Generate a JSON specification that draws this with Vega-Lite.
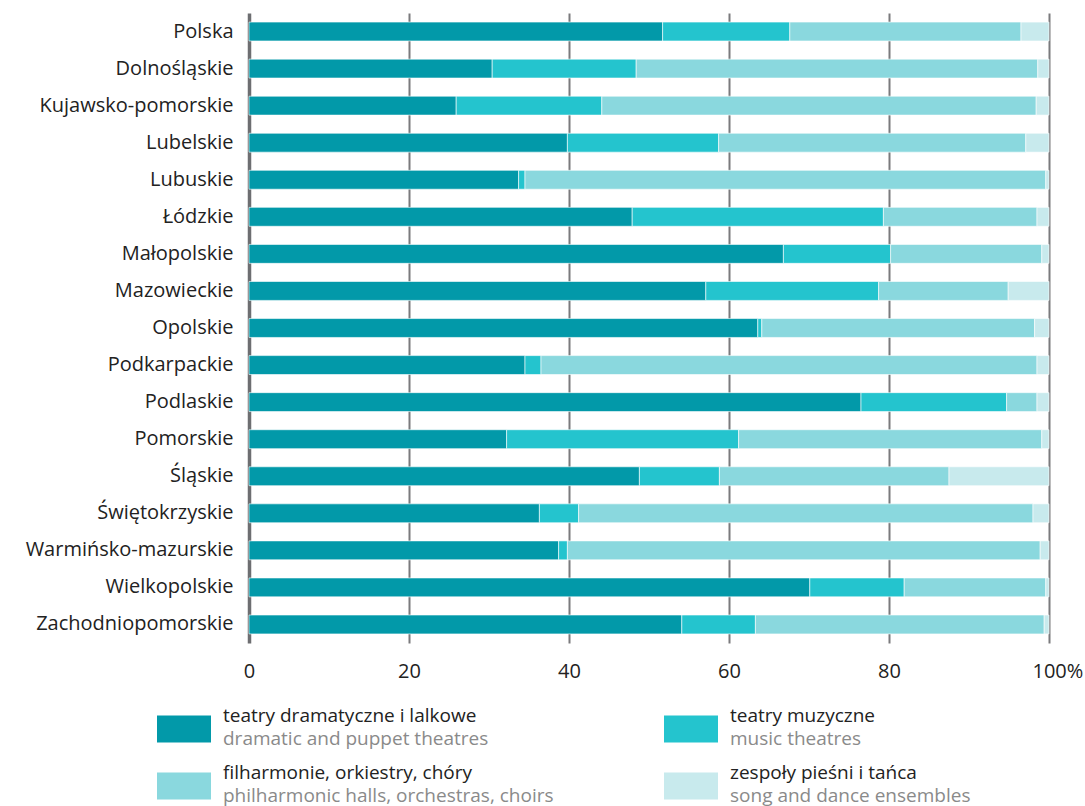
{
  "$schema": "https://vega.github.io/schema/vega-lite/v6.json",
  "background": "white",
  "padding": {"top": 13, "left": 25, "right": 5, "bottom": 0},
  "spacing": 20,
  "config": {
    "view": {"stroke": null},
    "font": "Open Sans"
  },
  "datasets": {
    "cats": [
      {"cat": "teatry dramatyczne i lalkowe", "en": "dramatic and puppet theatres"},
      {"cat": "teatry muzyczne", "en": "music theatres"},
      {"cat": "filharmonie, orkiestry, chóry", "en": "philharmonic halls, orchestras, choirs"},
      {"cat": "zespoły pieśni i tańca", "en": "song and dance ensembles"}
    ],
    "bars": [
      {"region": "Polska", "cat": "teatry dramatyczne i lalkowe", "value": 51.7},
      {"region": "Polska", "cat": "teatry muzyczne", "value": 15.9},
      {"region": "Polska", "cat": "filharmonie, orkiestry, chóry", "value": 28.9},
      {"region": "Polska", "cat": "zespoły pieśni i tańca", "value": 3.5},
      {"region": "Dolnośląskie", "cat": "teatry dramatyczne i lalkowe", "value": 30.4},
      {"region": "Dolnośląskie", "cat": "teatry muzyczne", "value": 18.0},
      {"region": "Dolnośląskie", "cat": "filharmonie, orkiestry, chóry", "value": 50.2},
      {"region": "Dolnośląskie", "cat": "zespoły pieśni i tańca", "value": 1.4},
      {"region": "Kujawsko-pomorskie", "cat": "teatry dramatyczne i lalkowe", "value": 25.9},
      {"region": "Kujawsko-pomorskie", "cat": "teatry muzyczne", "value": 18.2},
      {"region": "Kujawsko-pomorskie", "cat": "filharmonie, orkiestry, chóry", "value": 54.3},
      {"region": "Kujawsko-pomorskie", "cat": "zespoły pieśni i tańca", "value": 1.6},
      {"region": "Lubelskie", "cat": "teatry dramatyczne i lalkowe", "value": 39.8},
      {"region": "Lubelskie", "cat": "teatry muzyczne", "value": 18.9},
      {"region": "Lubelskie", "cat": "filharmonie, orkiestry, chóry", "value": 38.4},
      {"region": "Lubelskie", "cat": "zespoły pieśni i tańca", "value": 2.9},
      {"region": "Lubuskie", "cat": "teatry dramatyczne i lalkowe", "value": 33.7},
      {"region": "Lubuskie", "cat": "teatry muzyczne", "value": 0.8},
      {"region": "Lubuskie", "cat": "filharmonie, orkiestry, chóry", "value": 65.1},
      {"region": "Lubuskie", "cat": "zespoły pieśni i tańca", "value": 0.4},
      {"region": "Łódzkie", "cat": "teatry dramatyczne i lalkowe", "value": 47.9},
      {"region": "Łódzkie", "cat": "teatry muzyczne", "value": 31.4},
      {"region": "Łódzkie", "cat": "filharmonie, orkiestry, chóry", "value": 19.2},
      {"region": "Łódzkie", "cat": "zespoły pieśni i tańca", "value": 1.5},
      {"region": "Małopolskie", "cat": "teatry dramatyczne i lalkowe", "value": 66.8},
      {"region": "Małopolskie", "cat": "teatry muzyczne", "value": 13.4},
      {"region": "Małopolskie", "cat": "filharmonie, orkiestry, chóry", "value": 18.9},
      {"region": "Małopolskie", "cat": "zespoły pieśni i tańca", "value": 0.9},
      {"region": "Mazowieckie", "cat": "teatry dramatyczne i lalkowe", "value": 57.1},
      {"region": "Mazowieckie", "cat": "teatry muzyczne", "value": 21.6},
      {"region": "Mazowieckie", "cat": "filharmonie, orkiestry, chóry", "value": 16.2},
      {"region": "Mazowieckie", "cat": "zespoły pieśni i tańca", "value": 5.1},
      {"region": "Opolskie", "cat": "teatry dramatyczne i lalkowe", "value": 63.6},
      {"region": "Opolskie", "cat": "teatry muzyczne", "value": 0.5},
      {"region": "Opolskie", "cat": "filharmonie, orkiestry, chóry", "value": 34.1},
      {"region": "Opolskie", "cat": "zespoły pieśni i tańca", "value": 1.8},
      {"region": "Podkarpackie", "cat": "teatry dramatyczne i lalkowe", "value": 34.5},
      {"region": "Podkarpackie", "cat": "teatry muzyczne", "value": 2.0},
      {"region": "Podkarpackie", "cat": "filharmonie, orkiestry, chóry", "value": 62.0},
      {"region": "Podkarpackie", "cat": "zespoły pieśni i tańca", "value": 1.5},
      {"region": "Podlaskie", "cat": "teatry dramatyczne i lalkowe", "value": 76.5},
      {"region": "Podlaskie", "cat": "teatry muzyczne", "value": 18.2},
      {"region": "Podlaskie", "cat": "filharmonie, orkiestry, chóry", "value": 3.8},
      {"region": "Podlaskie", "cat": "zespoły pieśni i tańca", "value": 1.5},
      {"region": "Pomorskie", "cat": "teatry dramatyczne i lalkowe", "value": 32.2},
      {"region": "Pomorskie", "cat": "teatry muzyczne", "value": 29.0},
      {"region": "Pomorskie", "cat": "filharmonie, orkiestry, chóry", "value": 37.9},
      {"region": "Pomorskie", "cat": "zespoły pieśni i tańca", "value": 0.9},
      {"region": "Śląskie", "cat": "teatry dramatyczne i lalkowe", "value": 48.8},
      {"region": "Śląskie", "cat": "teatry muzyczne", "value": 10.0},
      {"region": "Śląskie", "cat": "filharmonie, orkiestry, chóry", "value": 28.7},
      {"region": "Śląskie", "cat": "zespoły pieśni i tańca", "value": 12.5},
      {"region": "Świętokrzyskie", "cat": "teatry dramatyczne i lalkowe", "value": 36.3},
      {"region": "Świętokrzyskie", "cat": "teatry muzyczne", "value": 4.9},
      {"region": "Świętokrzyskie", "cat": "filharmonie, orkiestry, chóry", "value": 56.8},
      {"region": "Świętokrzyskie", "cat": "zespoły pieśni i tańca", "value": 2.0},
      {"region": "Warmińsko-mazurskie", "cat": "teatry dramatyczne i lalkowe", "value": 38.7},
      {"region": "Warmińsko-mazurskie", "cat": "teatry muzyczne", "value": 1.1},
      {"region": "Warmińsko-mazurskie", "cat": "filharmonie, orkiestry, chóry", "value": 59.1},
      {"region": "Warmińsko-mazurskie", "cat": "zespoły pieśni i tańca", "value": 1.1},
      {"region": "Wielkopolskie", "cat": "teatry dramatyczne i lalkowe", "value": 70.1},
      {"region": "Wielkopolskie", "cat": "teatry muzyczne", "value": 11.8},
      {"region": "Wielkopolskie", "cat": "filharmonie, orkiestry, chóry", "value": 17.7},
      {"region": "Wielkopolskie", "cat": "zespoły pieśni i tańca", "value": 0.4},
      {"region": "Zachodniopomorskie", "cat": "teatry dramatyczne i lalkowe", "value": 54.1},
      {"region": "Zachodniopomorskie", "cat": "teatry muzyczne", "value": 9.2},
      {"region": "Zachodniopomorskie", "cat": "filharmonie, orkiestry, chóry", "value": 36.1},
      {"region": "Zachodniopomorskie", "cat": "zespoły pieśni i tańca", "value": 0.6}
    ]
  },
  "vconcat": [
    {
      "width": 800,
      "height": 630,
      "data": {"name": "bars"},
      "transform": [
        {"calculate": "indexof(['teatry dramatyczne i lalkowe','teatry muzyczne','filharmonie, orkiestry, chóry','zespoły pieśni i tańca'], datum.cat)", "as": "catOrder"}
      ],
      "mark": {"type": "bar", "stroke": "white", "strokeWidth": 0.6},
      "encoding": {
        "y": {
          "field": "region", "type": "nominal", "sort": null,
          "scale": {"paddingInner": 0.49, "paddingOuter": 0.245},
          "axis": {
            "title": null, "domain": false, "ticks": false,
            "labelFontSize": 20, "labelColor": "#222222", "labelPadding": 16,
            "labelLimit": 0, "labelFont": "Open Sans"
          }
        },
        "x": {
          "field": "value", "type": "quantitative", "stack": "zero",
          "scale": {"domain": [0, 100], "nice": false},
          "axis": {
            "title": null, "domain": false, "ticks": false,
            "values": [0, 20, 40, 60, 80, 100],
            "labelExpr": "datum.value == 100 ? '100%' : datum.label",
            "labelFontSize": 20, "labelColor": "#222222", "labelPadding": 18,
            "labelAlign": {"condition": {"test": "datum.value == 100", "value": "left"}, "value": "center"},
            "labelOffset": {"condition": {"test": "datum.value == 100", "value": -17}, "value": 0},
            "grid": true,
            "gridColor": {"condition": {"test": "datum.value == 0", "value": "#6d6e71"}, "value": "#7a7a7d"},
            "gridWidth": {"condition": {"test": "datum.value == 0", "value": 3.5}, "value": 2},
            "labelFlush": false
          }
        },
        "color": {
          "field": "cat", "type": "nominal",
          "scale": {
            "domain": ["teatry dramatyczne i lalkowe", "teatry muzyczne", "filharmonie, orkiestry, chóry", "zespoły pieśni i tańca"],
            "range": ["#0299a9", "#24c4ce", "#8ad8de", "#c8eaed"]
          },
          "legend": null
        },
        "order": {"field": "catOrder", "type": "quantitative"}
      }
    },
    {
      "width": 800,
      "height": 100,
      "data": {"name": "cats"},
      "transform": [
        {"window": [{"op": "row_number", "as": "idx"}]},
        {"calculate": "(datum.idx - 1) % 2", "as": "col"},
        {"calculate": "floor((datum.idx - 1) / 2)", "as": "row"}
      ],
      "encoding": {
        "x": {"field": "col", "type": "quantitative", "scale": {"domain": [0, 1], "range": [-65, 442]}, "axis": null},
        "y": {"field": "row", "type": "quantitative", "scale": {"domain": [0, 1], "range": [28, 85]}, "axis": null}
      },
      "layer": [
        {
          "mark": {"type": "point", "shape": "M-1,-0.5H1V0.5H-1Z", "size": 2916, "filled": true, "opacity": 1, "clip": false},
          "encoding": {
            "color": {"field": "cat", "type": "nominal", "legend": null}
          }
        },
        {
          "mark": {"type": "text", "align": "left", "baseline": "alphabetic", "dx": 39, "dy": -7, "fontSize": 19, "color": "#222222", "font": "Open Sans"},
          "encoding": {"text": {"field": "cat"}}
        },
        {
          "mark": {"type": "text", "align": "left", "baseline": "alphabetic", "dx": 39, "dy": 16, "fontSize": 19, "color": "#8a8a8a", "font": "Open Sans"},
          "encoding": {"text": {"field": "en"}}
        }
      ]
    }
  ]
}
